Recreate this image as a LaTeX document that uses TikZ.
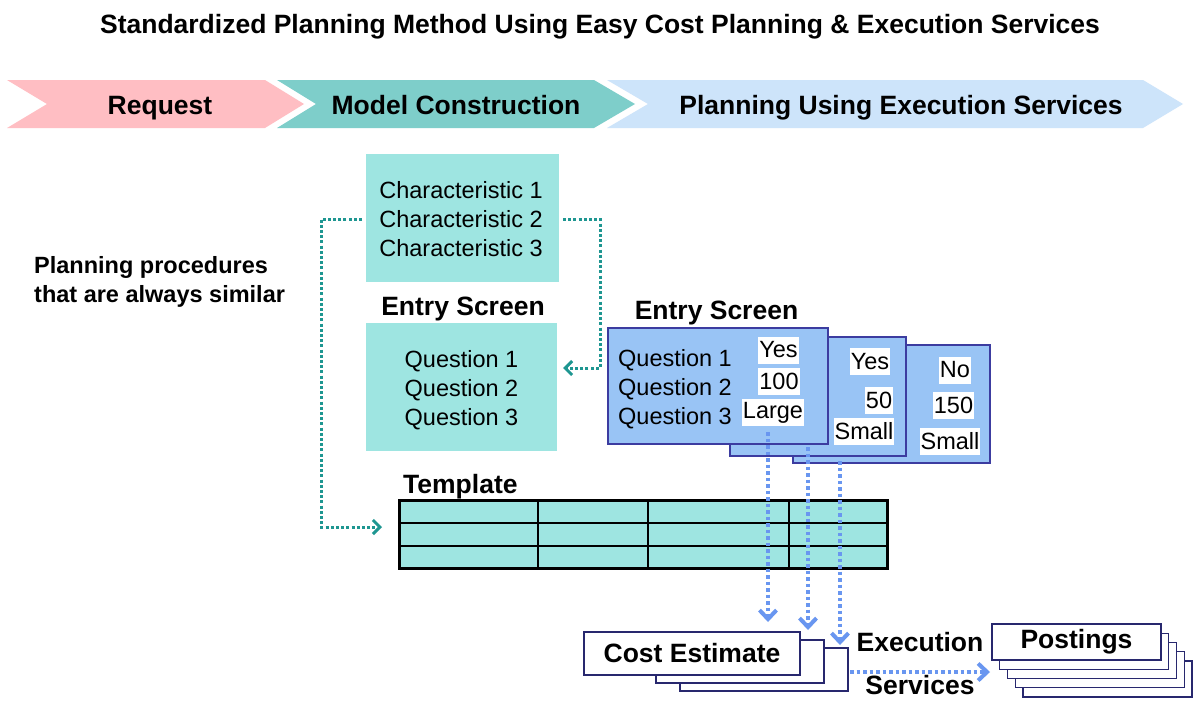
\documentclass[tikz,border=0pt]{standalone}
\usepackage{fontspec}
\setmainfont{Liberation Sans}
\usetikzlibrary{arrows.meta}
\definecolor{pinkc}{RGB}{255,190,195}
\definecolor{tealc}{RGB}{126,206,202}
\definecolor{lbluec}{RGB}{205,228,250}
\definecolor{aqua}{RGB}{158,229,225}
\definecolor{tealdot}{RGB}{30,150,145}
\definecolor{bluedot}{RGB}{105,150,240}
\definecolor{boxblue}{RGB}{153,196,245}
\definecolor{navy}{RGB}{60,60,160}
\definecolor{navyb}{RGB}{40,40,110}
\begin{document}
\begin{tikzpicture}[x=1pt,y=-1pt,
  bold/.style={font=\fontsize{26.5}{30}\selectfont\bfseries, inner sep=0pt},
  txt/.style={font=\fontsize{23.5}{29}\selectfont},
  sidetxt/.style={font=\fontsize{23.5}{29}\selectfont\bfseries, inner sep=0pt},
  val/.style={txt, fill=white, inner xsep=1pt, inner ysep=0pt, minimum height=27pt},
  aquabox/.style={fill=aqua, inner sep=0pt},
  bluebox/.style={fill=boxblue, draw=navy, line width=1.3pt, inner sep=0pt},
  sheet/.style={fill=white, draw=navyb, line width=1.3pt, inner sep=0pt},
  tealconn/.style={draw=tealdot, line width=3pt, dash pattern=on 3pt off 2.2pt, -{Straight Barb[length=7pt,width=14pt]}},
  blueconn/.style={draw=bluedot, line width=4pt, dash pattern=on 3.5pt off 3pt, -{Straight Barb[length=9pt,width=17pt]}}
]
\useasboundingbox (0,0) rectangle (1200,720);
\fill[white] (0,0) rectangle (1200,720);

% title
\node[bold, anchor=base] (title) at (600,33) {Standardized Planning Method Using Easy Cost Planning \& Execution Services};

% chevrons
\fill[pinkc] (7,80) -- (265,80) -- (304,104) -- (265,128) -- (7,128) -- (47,104) -- cycle;
\fill[tealc] (277,80) -- (594,80) -- (635,104) -- (594,128) -- (277,128) -- (316,104) -- cycle;
\fill[lbluec] (607,80) -- (1143,80) -- (1183,104) -- (1143,128) -- (607,128) -- (648,104) -- cycle;
\node[bold, anchor=base] (req) at (160,114) {Request};
\node[bold, anchor=base] (mc) at (456,114) {Model Construction};
\node[bold, anchor=base] (pu) at (901,114) {Planning Using Execution Services};

% side text
\node[sidetxt, align=left, anchor=north west] (side) at (34,256) {Planning procedures\\that are always similar};

% model construction boxes
\node[aquabox, minimum width=193pt, minimum height=128pt] (char) at (462.5,218) {};
\node[txt, align=left, inner sep=0pt] (chartxt) at (461,219.5) {Characteristic 1\\Characteristic 2\\Characteristic 3};
\node[bold, anchor=base] (es1) at (463,315) {Entry Screen};
\node[aquabox, minimum width=191pt, minimum height=128pt] (ques) at (461.5,387) {};
\node[txt, align=center, inner sep=0pt] (questxt) at (461.5,390.5) {Question 1\\Question 2\\Question 3};

% teal connectors
\coordinate (c1) at (362,219);
\coordinate (c2) at (321,219);
\coordinate (c3) at (321,527);
\coordinate (tblin) at (382,527);
\draw[tealconn] (c1) -- (c2) -- (c3) -- (tblin);
\coordinate (d1) at (563,219);
\coordinate (d2) at (600,219);
\coordinate (d3) at (600,368);
\coordinate (qin) at (563,368);
\draw[tealconn] (d1) -- (d2) -- (d3) -- (qin);

% entry screens (blue)
\node[bold, anchor=base] (es2) at (716.5,319) {Entry Screen};
\node[bluebox, minimum width=197pt, minimum height=118pt] (bb3) at (891.5,404) {};
\node[val] (no) at (955,370) {No};
\node[val] (v150) at (953.5,405) {150};
\node[val] (sm3) at (950,441.5) {Small};
\node[bluebox, minimum width=176pt, minimum height=119pt] (bb2) at (818,396.5) {};
\node[val] (yes2) at (870,361.5) {Yes};
\node[val] (v50) at (879,400) {50};
\node[val] (sm2) at (864,431) {Small};
\node[bluebox, minimum width=220pt, minimum height=116pt] (bb1) at (718,386) {};
\node[txt, align=left, inner sep=0pt] (q1) at (675,389.5) {Question 1\\Question 2\\Question 3};
\node[val] (yes1) at (778.5,350) {Yes};
\node[val] (v100) at (779,381) {100};
\node[val] (large) at (773,412.5) {Large};

% template
\node[bold, anchor=base west] (tpl) at (403,493) {Template};
\node[fill=aqua, inner sep=0pt, minimum width=487pt, minimum height=67pt] (tbl) at (643.5,534.5) {};
\draw[line width=1.5pt] (538,501) -- (538,568) (648,501) -- (648,568) (789,501) -- (789,568)
  (400,523) -- (887,523) (400,546) -- (887,546);
\draw[line width=3pt] (tbl.north west) rectangle (tbl.south east);

% cost estimate stack
\node[sheet, minimum width=168pt, minimum height=43pt] (ce3) at (764,669.5) {};
\node[sheet, minimum width=168pt, minimum height=43pt] (ce2) at (740,661.5) {};
\node[sheet, bold, minimum width=216pt, minimum height=43pt] (ce1) at (692,653.5) {Cost Estimate};

% blue dotted arrows
\coordinate (s1) at (768,432);
\coordinate (e1) at (768,622);
\coordinate (s2) at (808,447);
\coordinate (e2) at (808,630);
\coordinate (s3) at (840,461);
\coordinate (e3) at (840,645);
\draw[blueconn] (s1) -- (e1);
\draw[blueconn] (s2) -- (e2);
\draw[blueconn] (s3) -- (e3);

% postings stack
\foreach \i/\n in {4/p5,3/p4,2/p3,1/p2}{
  \node[sheet, minimum width=169pt, minimum height=36pt] (\n) at (1076.5+7.75*\i, 642+9.25*\i) {};
}
\node[sheet, bold, minimum width=169pt, minimum height=36pt] (p1) at (1076.5,642) {Postings};

% execution services arrow
\coordinate (h1) at (850,672);
\coordinate (h2) at (990,672);
\draw[blueconn] (h1) -- (h2);
\node[bold, anchor=base] (exe) at (920,651.5) {Execution};
\node[bold, anchor=base] (ser) at (920,694.5) {Services};
\end{tikzpicture}
\end{document}
